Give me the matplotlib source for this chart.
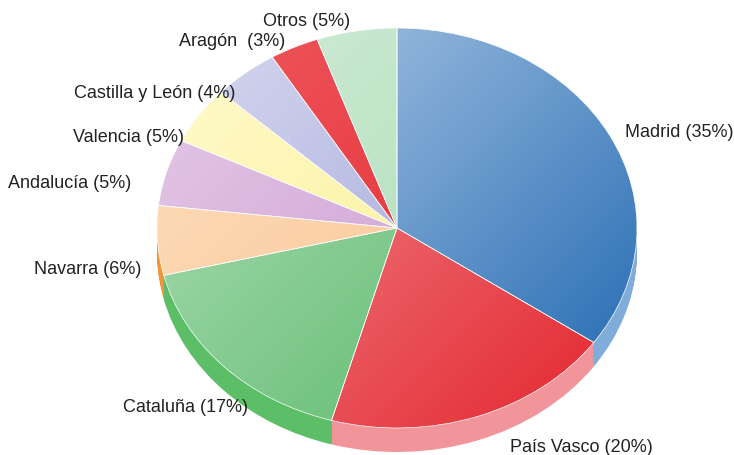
import numpy as np
import matplotlib.pyplot as plt
from matplotlib.colors import LinearSegmentedColormap

plt.rcParams['font.family'] = ['Liberation Sans', 'DejaVu Sans']

# datos
regiones = ['Madrid', 'País Vasco', 'Cataluña', 'Navarra', 'Andalucía',
            'Valencia', 'Castilla y León', 'Aragón', 'Otros']
# cuota estimada del dibujo (las etiquetas muestran el valor redondeado)
cuotas = [34.7, 19.7, 16.8, 5.6, 5.4, 4.7, 4.4, 3.3, 5.4]
porcentajes = [35, 20, 17, 6, 5, 5, 4, 3, 5]

# colores (claro -> oscuro) y lado del "3D"
claros = ['#bcd2eb', '#f39aa0', '#b4e0bb', '#fde0c0', '#e6cce8',
          '#fffad0', '#d8daf0', '#ef5a5e', '#d3eed9']
oscuros = ['#1d66b0', '#e3222a', '#4cb35e', '#f9bd86', '#c48ccb',
           '#f9ee80', '#9399d2', '#e0202a', '#a2d6ae']
lados = ['#80acd9', '#f2959a', '#5cbf68', '#f0963a', '#b070b8',
         '#e8dc60', '#8088c8', '#c81820', '#80c090']

# posiciones de etiquetas (pixeles)
pos_etiquetas = [(625, 132), (510, 448), (123, 408), (34, 270), (8, 183),
                 (73, 137), (74, 93), (179, 42), (263, 21)]

W, H = 734, 455
cx, cy, rx, ry = 397, 228, 240, 200
prof = 24 / ry

fig = plt.figure(figsize=(W / 100, H / 100), dpi=100)
ax = fig.add_axes([0, 0, 1, 1])

# lado del pastel (capas desplazadas hacia abajo)
for off in np.linspace(prof, 0.01, 16):
    ax.pie(cuotas, colors=lados, startangle=90, counterclock=False,
           center=(0, -off), wedgeprops=dict(linewidth=0))

# cara superior
wedges, _ = ax.pie(cuotas, colors=oscuros, startangle=90, counterclock=False,
                   wedgeprops=dict(edgecolor='white', linewidth=0.5))

n = 300
X, Y = np.meshgrid(np.linspace(0, 1, n), np.linspace(0, 1, n))
T = (0.55 * X + 0.45 * Y)
for w, c1, c2 in zip(wedges, claros, oscuros):
    cmap = LinearSegmentedColormap.from_list('g', [c1, c2])
    im = ax.imshow(T, cmap=cmap, extent=(-1, 1, -1, 1), origin='upper',
                   aspect='auto', vmin=0, vmax=1, zorder=w.get_zorder() + 0.1)
    im.set_clip_path(w)
    w.set_zorder(w.get_zorder() + 0.2)
    w.set_facecolor('none')

ax.set_aspect('auto')
ax.set_xlim(-cx / rx, (W - cx) / rx)
ax.set_ylim(-(H - cy) / ry, cy / ry)
ax.axis('off')

for nombre, p, (px, py) in zip(regiones, porcentajes, pos_etiquetas):
    sep = '  ' if nombre == 'Aragón' else ' '
    fig.text(px / W, 1 - py / H, f'{nombre}{sep}({p}%)', ha='left', va='center',
             fontsize=13, color='#222222')

plt.savefig('out.png', dpi=100)
